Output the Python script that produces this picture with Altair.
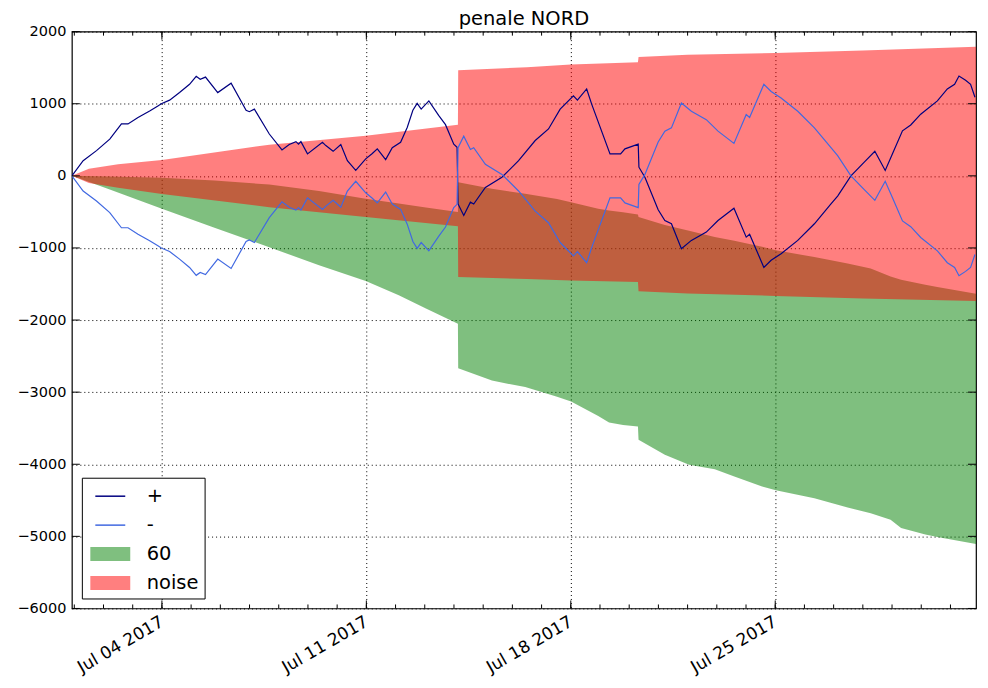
import altair as alt
import pandas as pd

# ---------------- data ----------------
# day-of-July (fractional, UTC) for the "+" / "-" lines
LINE_DAY = [0.917, 1.303, 1.76, 2.214, 2.614, 2.839, 3.181, 3.58, 3.863, 3.98,
            4.263, 4.604, 4.946, 5.174, 5.311, 5.492, 5.912, 6.369, 6.882, 6.994,
            7.165, 7.677, 8.111, 8.36, 8.589, 8.677, 8.759, 8.985, 9.497, 9.613,
            9.862, 10.125, 10.35, 10.637, 10.978, 11.204, 11.375, 11.661, 11.887, 12.173,
            12.399, 12.593, 12.74, 12.877, 13.14, 13.481, 13.71, 13.993, 14.106, 14.14,
            14.335, 14.563, 14.676, 15.075, 15.642, 16.212, 16.782, 17.237, 17.636, 18.09,
            18.227, 18.544, 18.715, 19.343, 19.705, 19.855, 20.309, 20.333, 20.538, 20.992,
            21.221, 21.446, 21.788, 22.129, 22.641, 23.041, 23.587, 24.007, 24.123, 24.611,
            24.86, 25.201, 25.772, 26.342, 26.909, 27.137, 27.592, 28.049, 28.411, 28.766,
            29.015, 29.357, 29.64, 29.982, 30.552, 30.893, 31.142, 31.292, 31.518, 31.689,
            31.839]
PLUS = [0, 210, 350, 510, 720, 720, 810, 900, 970, 1000,
        1050, 1155, 1270, 1380, 1340, 1370, 1155, 1285, 910, 890,
        925, 580, 360, 435, 475, 440, 475, 305, 465, 420,
        340, 435, 210, 75, 235, 310, 375, 225, 390, 465,
        670, 910, 1005, 925, 1040, 835, 710, 440, 395, -390,
        -550, -365, -390, -160, -20, 210, 490, 650, 925, 1110,
        1050, 1205, 995, 305, 305, 375, 440, 120, -20, -470,
        -620, -665, -1010, -895, -780, -620, -450, -850, -810, -1270,
        -1170, -1080, -895, -665, -390, -280, 0, 190, 340, 75,
        305, 625, 705, 855, 1040, 1205, 1270, 1385, 1325, 1270,
        1090]
MINUS = [0, -210, -350, -510, -720, -720, -810, -900, -970, -1000,
         -1050, -1155, -1270, -1380, -1340, -1370, -1155, -1285, -910, -890,
         -925, -580, -360, -435, -475, -440, -475, -305, -465, -420,
         -340, -435, -210, -75, -235, -310, -375, -225, -390, -465,
         -670, -910, -1005, -925, -1040, -835, -710, -440, -395, 390,
         550, 365, 390, 160, 20, -210, -490, -650, -925, -1110,
         -1050, -1205, -995, -305, -305, -375, -440, -120, 20, 470,
         620, 665, 1010, 895, 780, 620, 450, 850, 810, 1270,
         1170, 1080, 895, 665, 390, 280, 0, -190, -340, -75,
         -305, -625, -705, -855, -1040, -1205, -1270, -1385, -1325, -1270,
         -1090]

# "60" band
G60_DAY = [0.917, 2.214, 4.0, 5.8, 7.677, 9.38, 10.98, 12.11, 13.04, 14.135,
           14.145, 15.3, 16.44, 17.53, 18.01, 18.94, 19.31, 19.79, 20.30, 20.32,
           21.22, 22.05, 22.93, 23.60, 24.55, 25.02, 26.34, 27.48, 28.27, 28.95,
           29.31, 30.14, 30.55, 31.875]
G60_TOP = [0, -10, -28, -65, -120, -210, -318, -385, -440, -503,
           -88, -180, -249, -320, -365, -456, -480, -505, -535, -572,
           -680, -760, -849, -900, -985, -1033, -1126, -1217, -1286, -1395,
           -1440, -1510, -1541, -1635]
G60_BOT = [0, -190, -457, -720, -990, -1240, -1460, -1655, -1840, -2050,
           -2670, -2840, -2930, -3062, -3131, -3330, -3422, -3454, -3477, -3661,
           -3869, -4007, -4070, -4169, -4307, -4362, -4470, -4600, -4680, -4768,
           -4883, -4975, -5010, -5105]

# "noise" band
NOISE_DAY = [0.917, 1.5, 2.5, 4.0, 7.677, 10.98, 14.135, 14.145, 16.5, 18.0,
             20.30, 20.32, 22.0, 25.0, 28.0, 31.875]
NOISE_TOP = [0, 100, 160, 220, 433, 557, 710, 1466, 1505, 1545,
             1575, 1650, 1680, 1705, 1740, 1790]
NOISE_BOT = [0, -100, -165, -250, -434, -572, -700, -1402, -1430, -1450,
             -1471, -1600, -1630, -1665, -1700, -1734]

Y_TICKS = [-6000, -5000, -4000, -3000, -2000, -1000, 0, 1000, 2000]
X_MAJOR_DAYS = [4, 11, 18, 25]
X_MINOR_DAYS = list(range(1, 32))
LEGEND_NAMES = ["+", "-", "60", "noise"]
LEGEND_COLORS = ["#000080", "#4169e1", "rgba(0,128,0,0.5)", "rgba(255,0,0,0.5)"]

# ---------------- build tables ----------------
def iso(day):
    ts = pd.Timestamp("2017-07-01T00:00:00") + pd.to_timedelta(day - 1.0, unit="D")
    return ts.strftime("%Y-%m-%dT%H:%M:%SZ")

lines_df = pd.DataFrame({"t": [iso(d) for d in LINE_DAY], "plus": PLUS, "minus": MINUS})
band_rows = []
for d, hi, lo in zip(G60_DAY, G60_TOP, G60_BOT):
    band_rows.append({"t": iso(d), "hi": hi, "lo": lo, "series": "60"})
for d, hi, lo in zip(NOISE_DAY, NOISE_TOP, NOISE_BOT):
    band_rows.append({"t": iso(d), "hi": hi, "lo": lo, "series": "noise"})
band_df = pd.DataFrame(band_rows)
ytick_df = pd.DataFrame({"v": Y_TICKS})
xmajor_df = pd.DataFrame({"t": [iso(d) for d in X_MAJOR_DAYS]})
xminor_df = pd.DataFrame({"t": [iso(d) for d in X_MINOR_DAYS]})

W, H = 906, 578
FONT = "DejaVu Sans"

xscale = alt.Scale(type="utc", domain=[
    alt.DateTime(year=2017, month=6, date=30, hours=22, utc=True),
    alt.DateTime(year=2017, month=7, date=31, hours=21, utc=True)])
yscale = alt.Scale(domain=[-6000, 2000], nice=False, zero=False)

xaxis = alt.Axis(
    values=[alt.DateTime(year=2017, month=7, date=d, utc=True) for d in X_MAJOR_DAYS],
    labelExpr="utcFormat(datum.value, '%b %d %Y')",
    labelAngle=330, labelAlign="right", labelBaseline="top",
    labelPadding=5, labelOffset=-4, labelFontSize=17, labelFont=FONT, labelColor="black",
    ticks=False, domain=False, grid=True, gridDash=[1, 3], gridColor="black",
    gridWidth=1, title=None, labelOverlap=False, labelBound=False)
yaxis = alt.Axis(
    values=Y_TICKS, format="d", labelPadding=6, labelFontSize=14.5, labelFont=FONT,
    labelColor="black", ticks=False, domain=False, grid=True, gridDash=[1, 3],
    gridColor="black", gridWidth=1, title=None)

legend = alt.Legend(
    title=None, orient="none", legendX=10, legendY=447, direction="vertical",
    symbolType=alt.ExprRef(expr="(datum.value === '+' || datum.value === '-') ? "
                                "'M-1.2,-0.06H1.2V0.06H-1.2Z' : 'M-1.6,-0.56H1.6V0.56H-1.6Z'"),
    symbolSize=625, symbolStrokeWidth=0, symbolOffset=10,
    labelFontSize=19.5, labelFont=FONT, labelColor="black", labelOffset=24,
    padding=6, rowPadding=7, strokeColor="black", fillColor="white", cornerRadius=0)

color = alt.Color("series:N", scale=alt.Scale(domain=LEGEND_NAMES, range=LEGEND_COLORS),
                  legend=legend)

X_ENC = alt.X("t:T", scale=xscale, axis=xaxis)

bands = alt.Chart(band_df).mark_area(clip=True).encode(
    x=X_ENC,
    y=alt.Y("hi:Q", scale=yscale, axis=yaxis, stack=None),
    y2="lo:Q",
    color=color,
)

line_plus = alt.Chart(lines_df).mark_line(color="#000080", strokeWidth=1.2, clip=True).encode(
    x=X_ENC,
    y=alt.Y("plus:Q", scale=yscale, axis=yaxis),
)
line_minus = alt.Chart(lines_df).mark_line(color="#4169e1", strokeWidth=1.2, clip=True).encode(
    x=X_ENC,
    y=alt.Y("minus:Q", scale=yscale, axis=yaxis),
)

def yticks(x0, x1):
    return alt.Chart(ytick_df).mark_rule(color="black", strokeWidth=1).encode(
        y=alt.Y("v:Q", scale=yscale, axis=yaxis), x=alt.value(x0), x2=alt.value(x1))

def xticks(df, y0, y1):
    return alt.Chart(df).mark_rule(color="black", strokeWidth=1).encode(
        x=X_ENC, y=alt.value(y0), y2=alt.value(y1))

chart = alt.layer(
    bands, line_plus, line_minus,
    yticks(0, 8), yticks(W - 8, W),
    xticks(xminor_df, H, H - 4), xticks(xminor_df, 0, 4),
    xticks(xmajor_df, H, H - 8), xticks(xmajor_df, 0, 8),
).properties(
    width=W, height=H,
    title=alt.TitleParams("penale NORD", fontSize=19.5, font=FONT, fontWeight="normal",
                          offset=2, dy=8, anchor="middle", color="black", frame="group"),
    autosize=alt.AutoSizeParams(type="none"),
    padding={"left": 64, "top": 23, "right": 4, "bottom": 76},
).configure_view(stroke="black", strokeWidth=1.2)

chart.save("out.html", embed_options={"renderer": "svg", "actions": False})
